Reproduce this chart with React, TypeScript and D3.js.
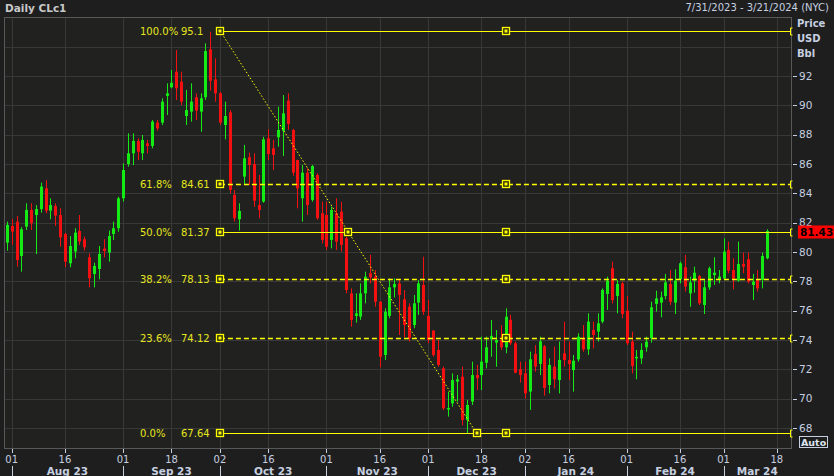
import React from "react";
import * as d3 from "d3";

const W = 834;
const H = 476;

// trading days with data
const dates = [
  "2023-07-31",
  "2023-08-01","2023-08-02","2023-08-03","2023-08-04","2023-08-07","2023-08-08","2023-08-09","2023-08-10","2023-08-11",
  "2023-08-14","2023-08-15","2023-08-16","2023-08-17","2023-08-18","2023-08-21","2023-08-22","2023-08-23","2023-08-24",
  "2023-08-25","2023-08-28","2023-08-29","2023-08-30","2023-08-31",
  "2023-09-01","2023-09-05","2023-09-06","2023-09-07","2023-09-08","2023-09-11","2023-09-12","2023-09-13","2023-09-14",
  "2023-09-15","2023-09-18","2023-09-19","2023-09-20","2023-09-21","2023-09-22","2023-09-25","2023-09-26","2023-09-27",
  "2023-09-28","2023-09-29",
  "2023-10-02","2023-10-03","2023-10-04","2023-10-05","2023-10-06","2023-10-09","2023-10-10","2023-10-11","2023-10-12",
  "2023-10-13","2023-10-16","2023-10-17","2023-10-18","2023-10-19","2023-10-20","2023-10-23","2023-10-24","2023-10-25",
  "2023-10-26","2023-10-27","2023-10-30","2023-10-31",
  "2023-11-01","2023-11-02","2023-11-03","2023-11-06","2023-11-07","2023-11-08","2023-11-09","2023-11-10","2023-11-13",
  "2023-11-14","2023-11-15","2023-11-16","2023-11-17","2023-11-20","2023-11-21","2023-11-22","2023-11-24","2023-11-27",
  "2023-11-28","2023-11-29","2023-11-30",
  "2023-12-01","2023-12-04","2023-12-05","2023-12-06","2023-12-07","2023-12-08","2023-12-11","2023-12-12","2023-12-13",
  "2023-12-14","2023-12-15","2023-12-18","2023-12-19","2023-12-20","2023-12-21","2023-12-22","2023-12-26","2023-12-27",
  "2023-12-28","2023-12-29",
  "2024-01-02","2024-01-03","2024-01-04","2024-01-05","2024-01-08","2024-01-09","2024-01-10","2024-01-11","2024-01-12",
  "2024-01-16","2024-01-17","2024-01-18","2024-01-19","2024-01-22","2024-01-23","2024-01-24","2024-01-25","2024-01-26",
  "2024-01-29","2024-01-30","2024-01-31",
  "2024-02-01","2024-02-02","2024-02-05","2024-02-06","2024-02-07","2024-02-08","2024-02-09","2024-02-12","2024-02-13",
  "2024-02-14","2024-02-15","2024-02-16","2024-02-20","2024-02-21","2024-02-22","2024-02-23","2024-02-26","2024-02-27",
  "2024-02-28","2024-02-29",
  "2024-03-01","2024-03-04","2024-03-05","2024-03-06","2024-03-07","2024-03-08","2024-03-11","2024-03-12","2024-03-13",
  "2024-03-14",
];
// empty slots at the right of the axis
const futureDates = ["2024-03-15", "2024-03-18", "2024-03-19", "2024-03-20", "2024-03-21"];

const opens = [
  80.64,
  81.77, 82.07, 79.73, 81.73, 82.87, 82.52, 82.92, 84.35, 82.82, 83.14, 82.52, 81.23, 79.23, 80.03, 81.43, 80.87, 79.64, 78.5, 78.84, 80.23, 79.96, 81.23, 81.62,
  83.66, 86.0, 86.73, 87.57, 86.73, 87.41, 87.23, 88.82, 88.82, 90.64, 91.23, 92.29, 91.61, 89.27, 89.57, 90.55, 89.57, 90.55, 93.82, 91.77,
  90.82, 88.66, 89.52, 83.89, 82.23, 85.14, 86.46, 86.0, 83.2, 83.43, 87.75, 87.07, 87.82, 88.27, 90.32, 88.32, 86.27, 83.66, 85.41, 83.55, 85.25, 82.64,
  82.52, 80.82, 82.64, 82.75, 80.93, 77.18, 75.64, 75.59, 77.18, 78.55, 78.32, 76.61, 72.98, 75.64, 77.59, 77.86, 76.77, 76.27, 75.02, 76.55, 77.75,
  75.64, 74.64, 73.32, 72.07, 69.27, 69.68, 71.16, 71.5, 68.55, 69.8, 71.61, 71.61, 72.45, 74.05, 73.82, 74.0, 73.5, 75.37, 73.78, 72.0,
  71.73, 70.48, 73.05, 72.37, 73.57, 70.93, 72.18, 71.27, 73.09, 72.64, 71.95, 72.68, 74.12, 73.36, 74.68, 74.57, 75.25, 77.14, 78.89, 77.0, 77.86,
  76.0, 73.89, 72.75, 72.75, 73.5, 74.12, 76.46, 76.55, 77.0, 77.82, 76.55, 78.14, 78.96, 77.18, 78.05, 78.36, 76.39, 77.59, 78.43, 78.14,
  78.2, 80.14, 78.77, 78.05, 79.18, 79.5, 77.75, 78.14, 78.09, 79.57,
];
const highs = [
  82.07,
  82.25, 82.46, 81.7, 83.32, 83.32, 83.2, 84.73, 84.9, 83.66, 83.32, 82.98, 81.3, 81.09, 81.62, 82.52, 81.05, 79.91, 79.27, 80.41, 80.87, 81.46, 82.07, 83.77,
  86.05, 88.09, 88.09, 87.75, 87.98, 87.64, 89.0, 89.0, 90.48, 91.5, 92.41, 93.77, 92.29, 91.05, 91.5, 90.82, 90.82, 94.23, 95.02, 93.2,
  90.93, 90.25, 89.68, 84.23, 83.32, 87.3, 86.78, 86.73, 85.25, 87.86, 88.37, 87.64, 89.91, 90.7, 90.82, 88.4, 86.3, 85.93, 85.71, 85.93, 85.37, 83.43,
  83.43, 83.09, 83.66, 83.43, 81.05, 77.52, 77.18, 77.86, 78.66, 79.8, 78.77, 76.65, 76.16, 78.2, 78.2, 78.14, 77.41, 76.5, 77.07, 78.09, 79.68,
  76.73, 74.68, 74.0, 72.18, 70.48, 71.73, 71.61, 72.18, 69.91, 72.52, 72.3, 74.23, 74.23, 75.37, 74.68, 75.02, 76.16, 75.71, 73.89, 72.52,
  72.52, 73.2, 73.66, 74.23, 73.66, 72.75, 73.55, 73.89, 75.25, 73.89, 72.98, 74.46, 75.02, 75.82, 75.25, 75.82, 77.52, 78.32, 79.34, 78.09, 77.98,
  77.0, 74.57, 73.32, 73.78, 74.23, 76.61, 77.36, 77.3, 78.5, 78.77, 78.82, 79.34, 79.8, 78.32, 79.0, 78.43, 78.09, 79.0, 79.64, 78.77,
  80.93, 80.71, 79.57, 80.71, 79.96, 79.96, 78.5, 78.77, 79.96, 81.55,
];
const lows = [
  80.09,
  80.5, 79.0, 78.66, 81.5, 81.5, 79.86, 82.68, 82.64, 82.23, 81.77, 80.36, 78.97, 78.96, 79.57, 80.48, 80.09, 77.59, 77.59, 78.14, 79.64, 79.34, 80.82, 81.39,
  83.44, 85.82, 85.93, 86.27, 86.27, 86.73, 87.07, 88.27, 88.66, 89.34, 91.16, 90.36, 90.02, 88.66, 88.89, 89.0, 88.2, 90.36, 91.0, 90.25,
  88.66, 87.68, 84.0, 82.07, 81.46, 84.57, 84.57, 83.09, 82.3, 83.36, 86.27, 85.59, 87.18, 86.55, 88.32, 85.2, 82.98, 82.07, 82.52, 83.43, 82.2, 80.59,
  80.14, 80.25, 80.14, 80.03, 77.18, 74.9, 75.18, 75.37, 76.5, 77.86, 76.27, 72.14, 72.64, 75.48, 76.9, 74.34, 74.19, 73.9, 74.8, 75.71, 75.71,
  73.78, 72.86, 72.18, 69.23, 68.78, 69.45, 69.8, 68.2, 67.64, 69.57, 70.59, 70.59, 72.07, 72.86, 72.18, 73.32, 73.1, 73.66, 71.73, 71.1,
  70.0, 69.23, 71.84, 71.61, 70.2, 70.36, 70.7, 70.36, 72.18, 71.27, 70.48, 72.52, 73.2, 72.98, 73.43, 73.89, 75.14, 76.05, 76.5, 75.82, 75.48,
  73.66, 71.73, 71.32, 72.37, 73.2, 73.82, 75.93, 75.55, 76.77, 76.39, 75.77, 77.86, 77.3, 76.27, 77.23, 76.39, 75.77, 77.41, 77.75, 77.86,
  78.09, 78.55, 77.46, 77.98, 78.55, 77.86, 76.73, 77.3, 77.52, 79.5,
];
const closes = [
  81.85,
  81.39, 79.45, 81.55, 82.87, 81.96, 82.93, 84.46, 82.82, 83.2, 82.48, 81.0, 79.34, 80.41, 81.32, 80.71, 80.32, 78.21, 79.05, 79.87, 80.07, 81.09, 81.62, 83.66,
  85.59, 86.73, 87.57, 86.84, 87.64, 87.23, 88.89, 88.43, 90.25, 90.82, 91.54, 91.16, 90.25, 89.68, 90.25, 89.64, 90.48, 93.7, 91.68, 90.82,
  88.82, 89.27, 84.23, 82.3, 82.8, 86.39, 85.93, 83.5, 82.87, 87.68, 86.68, 86.62, 88.32, 89.45, 88.73, 85.41, 84.34, 85.41, 83.2, 85.86, 82.3, 80.82,
  80.36, 82.87, 80.71, 80.48, 77.41, 75.37, 75.82, 77.18, 78.32, 78.27, 76.61, 72.86, 75.93, 77.59, 77.82, 77.07, 75.02, 74.12, 76.5, 77.86, 75.93,
  74.0, 72.98, 72.3, 69.34, 69.36, 71.27, 71.32, 68.55, 69.57, 71.61, 71.4, 72.52, 73.5, 74.28, 74.0, 73.5, 75.59, 73.78, 71.77, 71.61,
  70.36, 72.68, 72.18, 73.91, 70.73, 72.3, 71.32, 72.64, 72.64, 72.37, 72.59, 74.23, 73.36, 75.25, 74.34, 75.14, 77.41, 78.05, 76.73, 77.82, 75.77,
  73.78, 72.23, 72.85, 73.32, 73.89, 76.23, 76.84, 76.91, 77.93, 76.61, 78.05, 79.23, 77.64, 77.93, 78.59, 76.5, 77.59, 78.89, 78.59, 78.32,
  80.03, 78.73, 78.14, 79.18, 79.0, 77.98, 77.98, 77.52, 79.73, 81.43,
];

const priceTicks = [68, 70, 72, 74, 76, 78, 80, 82, 84, 86, 88, 90, 92];
const gridPrices = [68, 70, 72, 74, 76, 78, 80, 82, 84, 86, 88, 90, 92, 94];

const dayTicks = [
  "2023-08-01", "2023-08-16", "2023-09-01", "2023-09-18", "2023-10-02", "2023-10-16", "2023-11-01", "2023-11-16",
  "2023-12-01", "2023-12-18", "2024-01-02", "2024-01-16", "2024-02-01", "2024-02-16", "2024-03-01", "2024-03-18",
];
const monthStarts = ["2023-08-01", "2023-09-01", "2023-10-02", "2023-11-01", "2023-12-01", "2024-01-02", "2024-02-01", "2024-03-01"];
const monthLabels = ["Aug 23", "Sep 23", "Oct 23", "Nov 23", "Dec 23", "Jan 24", "Feb 24", "Mar 24"];

const fibPcts = ["100.0%", "61.8%", "50.0%", "38.2%", "23.6%", "0.0%"];
const fibValues = [95.1, 84.61, 81.37, 78.13, 74.12, 67.64];
const fibDashed = [false, true, false, true, true, false];
const fibStartDate = "2023-10-02";
const fibDiagEndDate = "2023-12-15";
const fibMidDate = "2023-12-26";

const lastPrice = 81.43;

const BG = "#1e1e1e";
const PLOT_BG = "#212220";
const GRID = "#383838";
const FRAME = "#585858";
const AXIS_TXT = "#c6d0e0";
const YEL = "#ffff00";
const YEL_TXT = "#e6e61e";
const UP = "#14ea14";
const DOWN = "#f41010";
const FONT = "'DejaVu Sans', Verdana, sans-serif";

export default function App() {
  const slots = [...dates, ...futureDates];
  const slotIndex = new Map(slots.map((d, i) => [d, i]));
  const x = d3.scaleLinear().domain([0, slots.length - 1]).range([6.86, 791.3]);
  const xd = (d: string) => x(slotIndex.get(d) as number);
  const y = d3.scaleLinear().domain([68, 92]).range([428, 76]);

  const plotL = 4, plotR = 791, plotT = 17, plotB = 448;

  const candles = dates.map((d, i) => ({ d, o: opens[i], h: highs[i], l: lows[i], c: closes[i] }));

  const fx0 = xd(fibStartDate);
  const fxEnd = xd(fibDiagEndDate);
  const fxMid = xd(fibMidDate);
  const yTop = y(fibValues[0]);
  const yBot = y(fibValues[fibValues.length - 1]);
  const diagMidX = (fx0 + fxEnd) / 2;

  const square = (cx: number, cy: number, key: string) => (
    <g key={key}>
      <rect x={Math.round(cx) - 3.5} y={Math.round(cy) - 3.5} width={7} height={7} fill="#2a2a10" stroke={YEL} strokeWidth={1.3} />
      <rect x={Math.round(cx) - 1.5} y={Math.round(cy) - 1.5} width={3} height={3} fill={YEL} />
    </g>
  );

  const tagY = Math.round(y(lastPrice));

  return (
    <svg width={W} height={H} style={{ position: "fixed", left: 0, top: 0, display: "block" }} fontFamily={FONT}>
      <rect x={0} y={0} width={W} height={H} fill={BG} />
      <rect x={plotL} y={plotT} width={plotR - plotL} height={plotB - plotT} fill={PLOT_BG} />

      {/* grid */}
      {gridPrices.map((p) => (
        <line key={"hg" + p} x1={plotL} x2={plotR} y1={Math.round(y(p)) + 0.5} y2={Math.round(y(p)) + 0.5} stroke={GRID} strokeWidth={1} />
      ))}
      {dayTicks.map((d) => (
        <line key={"vg" + d} x1={Math.round(xd(d)) + 0.5} x2={Math.round(xd(d)) + 0.5} y1={plotT} y2={plotB} stroke={GRID} strokeWidth={1} />
      ))}

      {/* frame */}
      <rect x={plotL + 0.5} y={plotT + 0.5} width={plotR - plotL} height={plotB - plotT} fill="none" stroke={FRAME} strokeWidth={1} />

      {/* candles */}
      <g>
        {candles.map((k) => {
          const cx = Math.round(x(slotIndex.get(k.d) as number));
          const up = k.c >= k.o;
          const col = up ? UP : DOWN;
          const top = y(Math.max(k.o, k.c));
          const bot = y(Math.min(k.o, k.c));
          return (
            <g key={k.d}>
              <rect x={cx} y={y(k.h)} width={1} height={Math.max(1, y(k.l) - y(k.h))} fill={col} />
              <rect x={cx - 1} y={top} width={3} height={Math.max(1.5, bot - top)} fill={col} />
            </g>
          );
        })}
      </g>

      {/* fibonacci retracement */}
      <g>
        {fibValues.map((v, i) => {
          const yy = Math.round(y(v)) + 0.5;
          return (
            <g key={"fib" + i}>
              <line x1={fx0} x2={plotR} y1={yy} y2={yy} stroke={YEL} strokeWidth={fibDashed[i] ? 1.3 : 1}
                strokeDasharray={fibDashed[i] ? "5,3" : undefined} />
              <path d={`M${plotR + 1.5},${yy - 3.5}H${plotR - 0.5}V${yy + 3.5}H${plotR + 1.5}`} fill="none" stroke={YEL} strokeWidth={1} />
              <text x={140} y={yy + 3.5} fontSize={10} fill={YEL_TXT}>{fibPcts[i]}</text>
              <text x={181} y={yy + 3.5} fontSize={10} fill={YEL_TXT}>{String(v)}</text>
            </g>
          );
        })}
        <line x1={fx0} y1={yTop} x2={fxEnd} y2={yBot} stroke={YEL} strokeWidth={1} strokeDasharray="1.5,2" />
        {fibValues.map((v, i) => square(fx0, y(v), "sqs" + i))}
        {fibValues.map((v, i) => square(fxMid, y(v), "sqm" + i))}
        {square(diagMidX, y(fibValues[2]), "sqd1")}
        {square(fxEnd, yBot, "sqd2")}
      </g>

      {/* right axis */}
      {priceTicks.map((p) => (
        <g key={"yt" + p}>
          <line x1={793} x2={797} y1={Math.round(y(p)) + 0.5} y2={Math.round(y(p)) + 0.5} stroke={AXIS_TXT} strokeWidth={1} />
          <text x={799} y={y(p) + 3.6} fontSize={10.5} fill={AXIS_TXT}>{p}</text>
        </g>
      ))}
      <text x={797} y={27} fontSize={10} fontWeight="bold" fill={AXIS_TXT}>Price</text>
      <text x={797} y={42} fontSize={10} fontWeight="bold" fill={AXIS_TXT}>USD</text>
      <text x={797} y={57} fontSize={10} fontWeight="bold" fill={AXIS_TXT}>Bbl</text>

      {/* last price tag */}
      <rect x={798} y={tagY - 5.5} width={36} height={13} fill="#ff0000" />
      <text x={800} y={tagY + 4.5} fontSize={10.5} fontWeight="bold" fill="#000">{lastPrice.toFixed(2)}</text>

      {/* Auto box */}
      <rect x={799.5} y={436.5} width={28} height={11} fill="none" stroke={AXIS_TXT} strokeWidth={1} />
      <text x={801} y={446} fontSize={9.5} fontWeight="bold" fill="#dde4f0">Auto</text>

      {/* x axis */}
      {dayTicks.map((d) => (
        <g key={"xt" + d}>
          <line x1={Math.round(xd(d)) + 0.5} x2={Math.round(xd(d)) + 0.5} y1={449} y2={453} stroke={AXIS_TXT} strokeWidth={1} />
          <text x={xd(d)} y={463} fontSize={10} textAnchor="middle" fill={AXIS_TXT}>{d.slice(8)}</text>
        </g>
      ))}
      {monthStarts.map((d, i) => {
        const x0 = xd(d);
        const x1 = i < monthStarts.length - 1 ? xd(monthStarts[i + 1]) : plotR;
        return (
          <g key={"m" + d}>
            <line x1={Math.round(x0) + 0.5} x2={Math.round(x0) + 0.5} y1={466} y2={476} stroke={AXIS_TXT} strokeWidth={1} />
            <text x={(x0 + x1) / 2} y={475} fontSize={10.5} fontWeight="bold" textAnchor="middle" fill={AXIS_TXT}>{monthLabels[i]}</text>
          </g>
        );
      })}

      {/* header */}
      <text x={5} y={12} fontSize={10.5} fontWeight="bold" fill="#c8c8c8">Daily CLc1</text>
      <text x={829} y={11} fontSize={10} textAnchor="end" fill={AXIS_TXT}>7/31/2023 - 3/21/2024 (NYC)</text>
    </svg>
  );
}
